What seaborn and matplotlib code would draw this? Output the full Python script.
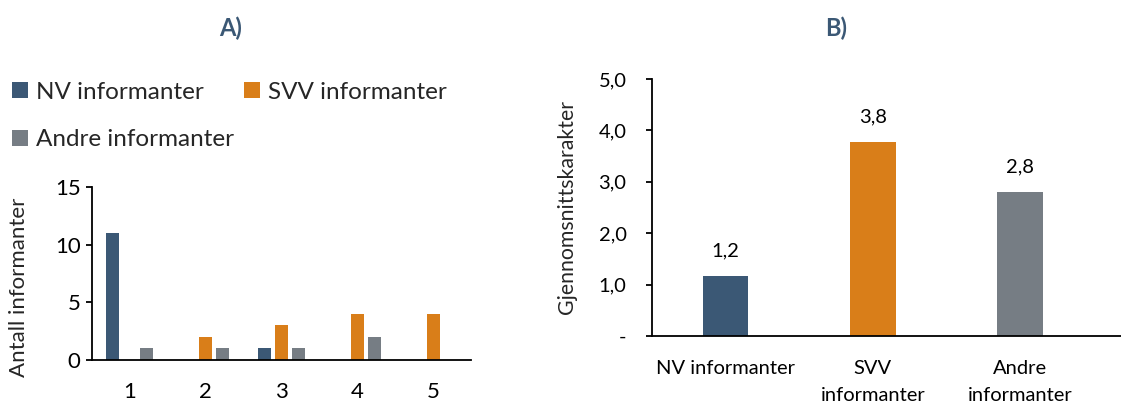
import pandas as pd
import matplotlib
matplotlib.use("Agg")
import matplotlib.pyplot as plt
import seaborn as sns

# Data
karakterer = ["1", "2", "3", "4", "5"]
nv_antall = [11, 0, 1, 0, 0]
svv_antall = [0, 2, 3, 4, 4]
andre_antall = [1, 1, 1, 2, 0]

grupper = ["NV informanter", "SVV informanter", "Andre informanter"]
grupper_tick = ["NV informanter", "SVV\ninformanter", "Andre\ninformanter"]
snitt = [1.17, 3.77, 2.80]

farger = ["#3B5875", "#D97E19", "#767D84"]
tittel_farge = "#3B5875"

sns.set_theme(style="white")
plt.rcParams["font.family"] = ["Lato", "DejaVu Sans"]

W, H = 1121, 403
fig = plt.figure(figsize=(W / 100, H / 100), dpi=100)

def px_axes(x0, x1, ytop, ybot):
    return fig.add_axes([x0 / W, (H - ybot) / H, (x1 - x0) / W, (ybot - ytop) / H])

# ---- A) fordeling
df_a = pd.DataFrame({
    "karakter": karakterer * 3,
    "antall": nv_antall + svv_antall + andre_antall,
    "gruppe": [g for g in grupper for _ in karakterer],
})
ax1 = px_axes(92, 471, 187, 360)
sns.barplot(data=df_a, x="karakter", y="antall", hue="gruppe", palette=farger,
            saturation=1, width=0.675, gap=0.24, linewidth=0, ax=ax1)
handles, labels = ax1.get_legend_handles_labels()
ax1.get_legend().remove()
ax1.set_xlim(-0.5, 4.5)
ax1.set_ylim(0, 15)
ax1.set_yticks([0, 5, 10, 15])
ax1.set_xlabel("")
ax1.set_ylabel("Antall informanter", fontsize=16)
ax1.yaxis.set_label_coords(-0.166, 0.42)

# ---- B) gjennomsnitt
ax2 = px_axes(652, 1121, 79, 336)
sns.barplot(x=grupper, y=snitt, hue=grupper, palette=farger, saturation=1,
            width=0.31, linewidth=0, legend=False, ax=ax2)
ax2.set_xlim(-0.5, 2.687)
ax2.set_ylim(0, 5)
ax2.set_yticks([0, 1, 2, 3, 4, 5])
ax2.set_yticklabels(["-" if v == 0 else f"{v:.1f}".replace(".", ",") for v in range(6)])
ax2.set_xticks(range(3))
ax2.set_xticklabels(grupper_tick, va="top", linespacing=1.75)
ax2.set_ylabel("Gjennomsnittskarakter", fontsize=15.3)
ax2.yaxis.set_label_coords(-0.160, 0.5)
for i, v in enumerate(snitt):
    ax2.annotate(f"{v:.1f}".replace(".", ","), (i, v), xytext=(0, 12),
                 textcoords="offset points", ha="center", va="bottom",
                 fontsize=14.5, color="black")

for ax in (ax1, ax2):
    for s in ("top", "right"):
        ax.spines[s].set_visible(False)
    for s in ("left", "bottom"):
        ax.spines[s].set_color("black")
        ax.spines[s].set_linewidth(1.3)
    ax.tick_params(axis="y", left=True, length=4.3, width=1.3, color="black",
                   labelcolor="black")
    ax.tick_params(axis="x", bottom=False, labelcolor="black")
    ax.grid(False)

ax1.tick_params(axis="both", labelsize=16)
ax1.tick_params(axis="y", pad=4)
ax1.tick_params(axis="x", pad=10)
ax2.tick_params(axis="both", labelsize=14.5)
ax2.tick_params(axis="y", pad=14)
ax2.tick_params(axis="x", pad=11)

# Titler
fig.text(231 / W, 1 - 28 / H, "A)", ha="center", va="center", fontsize=17,
         fontweight="bold", color=tittel_farge)
fig.text(836 / W, 1 - 28 / H, "B)", ha="center", va="center", fontsize=17,
         fontweight="bold", color=tittel_farge)

# Forklaring (rekkefølge for radvis fylling)
rekkefolge = [0, 2, 1]
fig.legend([handles[i] for i in rekkefolge], [labels[i] for i in rekkefolge],
           loc="upper left", bbox_to_anchor=(2 / W, 1 - 72 / H),
           ncol=2, frameon=False, fontsize=17.5, handlelength=0.65, handleheight=0.65,
           handletextpad=0.35, columnspacing=0.4, labelspacing=1.1, borderaxespad=0)

fig.savefig("out.png", dpi=100)
